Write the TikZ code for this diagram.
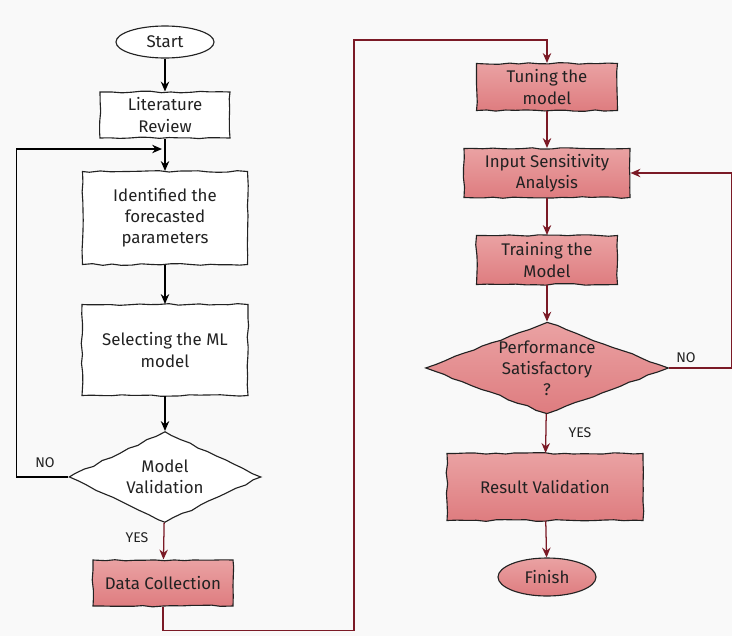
\documentclass[tikz,border=0pt]{standalone}
\usepackage{fontspec}
\setmainfont{Fira Sans}
\usepackage{tikz}
\usetikzlibrary{shapes.geometric,arrows.meta,decorations.pathmorphing}
\definecolor{bgcol}{HTML}{F9F9F9}
\definecolor{wine}{HTML}{7B1A26}
\definecolor{pinktop}{HTML}{EAA2A3}
\definecolor{pinkbot}{HTML}{DE7C7F}
\definecolor{inkcol}{HTML}{222222}
\pgfmathsetseed{7}

\begin{document}
\begin{tikzpicture}[
        sketch/.style={decorate, decoration={random steps, segment length=7pt, amplitude=0.6pt}},
        box/.style={draw=inkcol, line width=0.8pt, sketch, fill=white, align=center, text=inkcol,
          font=\fontsize{12}{15}\selectfont, inner sep=2pt},
        redbox/.style={box, top color=pinktop, bottom color=pinkbot},
        oval/.style={box, ellipse, decorate=false},
        choice/.style={box, diamond, inner sep=0pt},
        blk/.style={draw=black, line width=0.9pt, -{Stealth[length=7pt, width=6pt]}},
        red/.style={draw=wine, line width=0.9pt, -{Stealth[length=7pt, width=6pt]}},
        tag/.style={font=\fontsize{10}{12}\selectfont, text=inkcol}
      ]
        \fill[bgcol] (0, 0) rectangle (18.3, -15.9);
        \useasboundingbox (0, 0) rectangle (18.3, -15.9);
        % left column
        \node[oval, minimum width=2.45cm, minimum height=0.8cm] (start) at (4.125, -1.05) {Start};
        \node[box, minimum width=3.25cm, minimum height=1.15cm] (lit) at (4.125, -2.875) {Literature\\Review};
        \node[box, minimum width=4.125cm, minimum height=2.325cm] (ident) at (4.125, -5.45) {Identified the\\forecasted\\parameters};
        \node[box, minimum width=4.15cm, minimum height=2.275cm] (select) at (4.125, -8.75) {Selecting the ML\\model};
        \node[choice, aspect=2.1, minimum width=4.8cm, minimum height=2.275cm] (valid) at (4.125, -11.925) {Model\\Validation};
        \node[redbox, minimum width=3.5cm, minimum height=1.15cm] (data) at (4.075, -14.575) {Data Collection};
        % right column
        \node[redbox, minimum width=3.525cm, minimum height=1.175cm] (tune) at (13.675, -2.175) {Tuning the\\model};
        \node[redbox, minimum width=4.15cm, minimum height=1.225cm] (sens) at (13.675, -4.325) {Input Sensitivity\\Analysis};
        \node[redbox, minimum width=3.525cm, minimum height=1.225cm] (train) at (13.675, -6.5) {Training the\\Model};
        \node[choice, aspect=2.65, top color=pinktop, bottom color=pinkbot, minimum width=5.9cm, minimum height=2.225cm] (perf) at (13.675, -9.2) {Performance\\Satisfactory\\?};
        \node[redbox, minimum width=4.9cm, minimum height=1.675cm] (result) at (13.625, -12.175) {Result Validation};
        \node[oval, top color=pinktop, bottom color=pinkbot, minimum width=2.45cm, minimum height=0.95cm] (finish) at (13.675, -14.425) {Finish};
        % labels
        \node[tag] (no1) at (1.125, -11.575) {NO};
        \node[tag] (yes1) at (3.425, -13.45) {YES};
        \node[tag] (no2) at (17.15, -8.95) {NO};
        \node[tag] (yes2) at (14.5, -10.825) {YES};
        \coordinate (back) at (4.05, -3.725);
        % connectors
        \draw[blk] (start) -- (lit);
        \draw[blk] (lit) -- (ident);
        \draw[blk] (ident) -- (select);
        \draw[blk] (select) -- (valid);
        \draw[blk] (valid.west) -- ++(-1.3, 0) |- (back);
        \draw[red] (valid) -- (data);
        \draw[red] (data.south) -- ++(0, -0.6) -| (8.85, -1.0) -| (tune.north);
        \draw[red] (tune) -- (sens);
        \draw[red] (sens) -- (train);
        \draw[red] (train) -- (perf);
        \draw[red] (perf.east) -- ++(1.575, 0) |- (sens.east);
        \draw[red] (perf) -- (result);
        \draw[red] (result) -- (finish);
      \end{tikzpicture}
\end{document}
